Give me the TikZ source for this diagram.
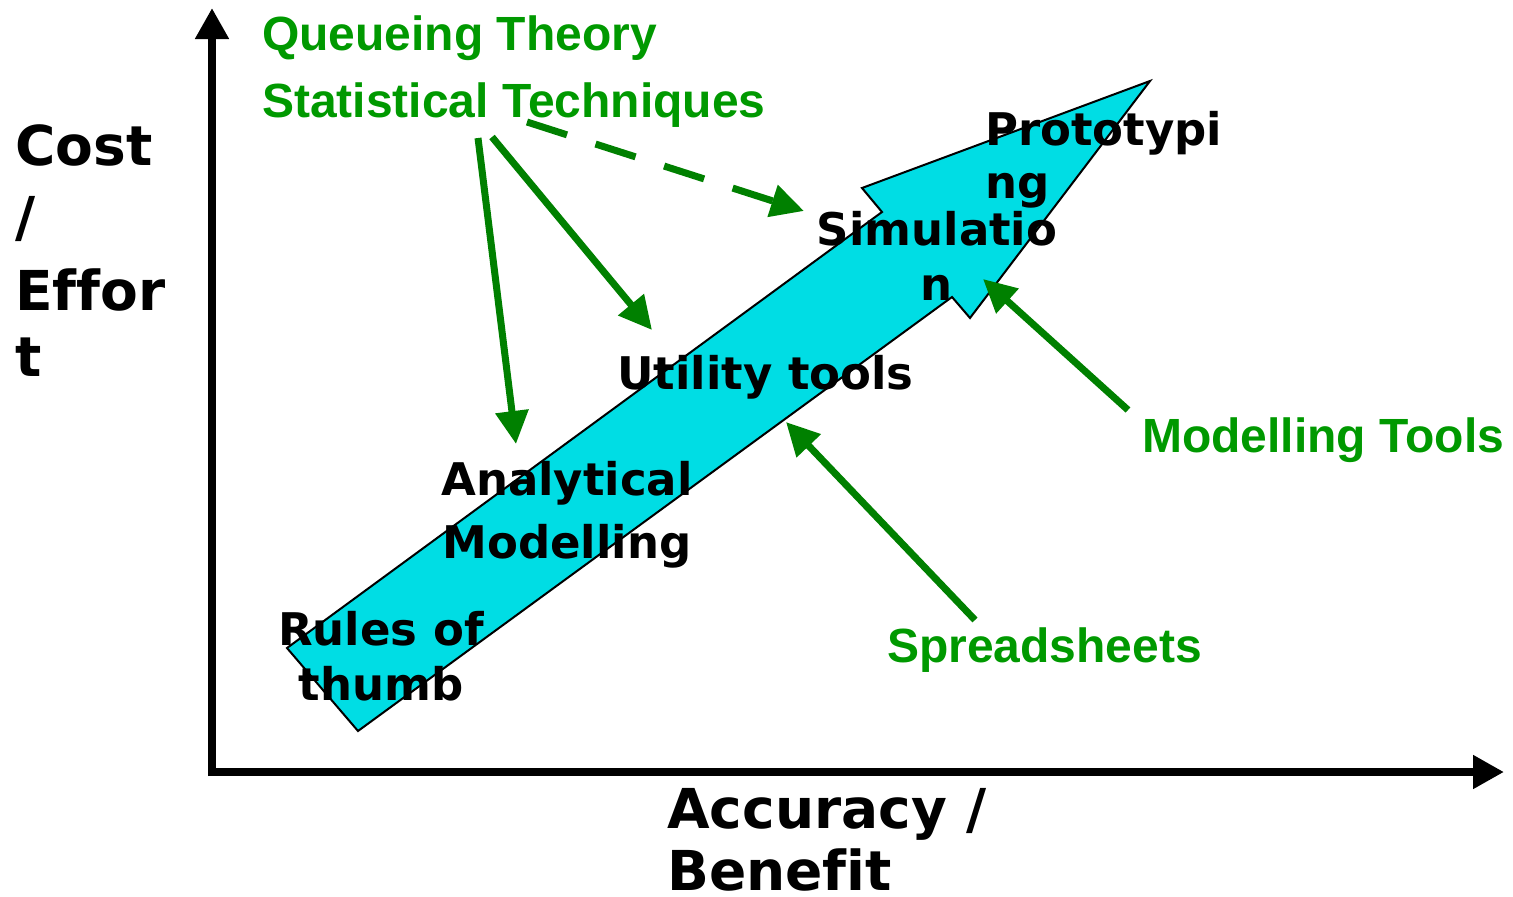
\documentclass[tikz,border=0pt]{standalone}
\usepackage{fontspec}
\setmainfont{DejaVu Sans}[Ligatures=CommonOff]
\newfontfamily\arialfont{Liberation Sans}[Ligatures=CommonOff]
\usetikzlibrary{arrows.meta}
\definecolor{arrcyan}{RGB}{0,221,228}
\definecolor{txtgreen}{RGB}{0,153,0}
\definecolor{arrgreen}{RGB}{0,128,0}
\tikzset{
  axisline/.style={line width=8pt, -{Triangle[length=31pt,width=32pt]}},
  bigarrow/.style={fill=arrcyan, draw=black, line width=2pt, line join=miter},
  blacklbl/.style={inner sep=0pt, font=\bfseries\fontsize{45}{54}\selectfont, text=black},
  axislbl/.style={inner sep=0pt, font=\bfseries\fontsize{55}{66}\selectfont, text=black},
  greenlbl/.style={inner sep=0pt, font=\arialfont\bfseries\fontsize{48}{56}\selectfont, text=txtgreen},
  greenarrow/.style={draw=arrgreen, line width=7pt, -{Triangle[length=33pt,width=32pt]}},
  dashedgreen/.style={greenarrow, dash pattern=on 42pt off 30pt},
}
\begin{document}
\begin{tikzpicture}[x=1pt,y=-1pt]
\useasboundingbox (0,0) rectangle (1513,897);
% big cyan arrow
\draw[bigarrow] (287,648) -- (882,212) -- (862,188) -- (1150,81) -- (970,318) -- (952,297) -- (358,731) -- cycle;
% axes
\coordinate (origin) at (212,772);
\coordinate (ytip) at (212,8);
\coordinate (xtip) at (1504,772);
\coordinate (ybot) at (212,776);
\coordinate (xleft) at (208,772);
\draw[axisline] (ybot) -- (ytip);
\draw[axisline] (xleft) -- (xtip);
% axis labels
\node[axislbl, anchor=base west] (c1) at (15,165) {Cost};
\node[axislbl, anchor=base west] (c2) at (15,236) {/};
\node[axislbl, anchor=base west] (c3) at (15,310) {Effor};
\node[axislbl, anchor=base west] (c4) at (15,376) {t};
\node[axislbl, anchor=base west] (a1) at (667,828) {Accuracy /};
\node[axislbl, anchor=base west] (a2) at (667,890) {Benefit};
% black labels
\node[blacklbl, anchor=base west] (p1) at (985,145) {Prototypi};
\node[blacklbl, anchor=base west] (p2) at (985,198) {ng};
\node[blacklbl, anchor=base] (s1) at (937,245) {Simulatio};
\node[blacklbl, anchor=base] (s2) at (937,300) {n};
\node[blacklbl, anchor=base west] (u1) at (617,389) {Utility tools};
\node[blacklbl, anchor=base] (m1) at (567,495) {Analytical};
\node[blacklbl, anchor=base] (m2) at (567,558) {Modelling};
\node[blacklbl, anchor=base] (r1) at (381,645) {Rules of};
\node[blacklbl, anchor=base] (r2) at (381,700) {thumb};
% green labels
\node[greenlbl, anchor=base west] (q) at (262,50) {Queueing Theory};
\node[greenlbl, anchor=base west] (st) at (262,117) {Statistical Techniques};
\node[greenlbl, anchor=base west] (mt) at (1142,452) {Modelling Tools};
\node[greenlbl, anchor=base west] (sp) at (887,662) {Spreadsheets};
% green arrow endpoints
\coordinate (g1s) at (478,138);
\coordinate (g1e) at (516,444);
\coordinate (g2s) at (492,137);
\coordinate (g2e) at (652,330);
\coordinate (g3s) at (527,122);
\coordinate (g3e) at (804,211);
\coordinate (g4s) at (1128,410);
\coordinate (g4e) at (983,279);
\coordinate (g5s) at (975,620);
\coordinate (g5e) at (786,422);
\draw[greenarrow] (g1s) -- (g1e);
\draw[greenarrow] (g2s) -- (g2e);
\draw[dashedgreen] (g3s) -- (g3e);
\draw[greenarrow] (g4s) -- (g4e);
\draw[greenarrow] (g5s) -- (g5e);
\end{tikzpicture}
\end{document}
